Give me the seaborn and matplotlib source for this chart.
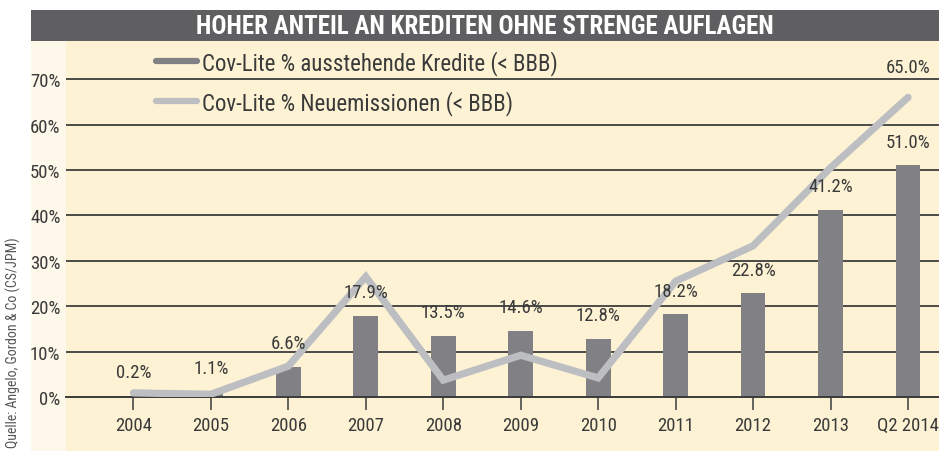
import matplotlib
matplotlib.use("Agg")
import matplotlib.pyplot as plt
from matplotlib.patches import Rectangle
from matplotlib.lines import Line2D
import numpy as np
import pandas as pd
import seaborn as sns

# chart data
periods = ["2004", "2005", "2006", "2007", "2008", "2009", "2010",
           "2011", "2012", "2013", "Q2 2014"]
outstanding = [0.2, 1.1, 6.6, 17.9, 13.5, 14.6, 12.8, 18.2, 22.8, 41.2, 51.0]
new_issue = [0.9, 0.6, 6.8, 26.5, 3.7, 9.2, 4.2, 25.5, 33.3, 50.5, 66.0]
new_issue_last_label = "65.0%"
y_ticks = [0, 10, 20, 30, 40, 50, 60, 70]
title = "HOHER ANTEIL AN KREDITEN OHNE STRENGE AUFLAGEN"
legend_labels = ["Cov-Lite % ausstehende Kredite (< BBB)",
                 "Cov-Lite % Neuemissionen (< BBB)"]
source = "Quelle: Angelo, Gordon & Co (CS/JPM)"

BAR_COLOR = "#808085"
LINE_COLOR = "#bdbec2"
TEXT_COLOR = "#3a3a3a"
BG = "#fdf3d4"
STRIP = "#fdf8ea"
TITLE_BG = "#5f5f61"

sns.set_style("white")
plt.rcParams["font.family"] = ["Roboto Condensed", "Archivo Narrow",
                               "Liberation Sans Narrow", "DejaVu Sans"]

W, H = 939, 452
fig = plt.figure(figsize=(W / 100, H / 100), dpi=100)
fig.patch.set_facecolor("white")


# background panels, given in picture pixels
def px_rect(x0, y0, x1, y1, color):
    fig.patches.append(Rectangle((x0 / W, 1 - y1 / H), (x1 - x0) / W,
                                 (y1 - y0) / H, transform=fig.transFigure,
                                 facecolor=color, edgecolor="none", zorder=-1))


px_rect(31, 42, 66, H, STRIP)
px_rect(66, 42, W, H, BG)
px_rect(31, 11, W, 42, TITLE_BG)
fig.text((31 + W) / 2 / W, 1 - 27 / H, title, color="white", fontsize=18,
         fontweight="bold", ha="center", va="center")
fig.text(13 / W, 1 - 343 / H, source, rotation=90, color="#555555",
         fontsize=10, ha="center", va="center")

# axes: bottom at the 0% line (y=398px), top at 42px
y0_px, top_px, left_px = 398, 42, 66
ax = fig.add_axes([left_px / W, 1 - y0_px / H, (W - left_px) / W,
                   (y0_px - top_px) / H])
ax.set_facecolor("none")

df = pd.DataFrame({"period": periods, "outstanding": outstanding,
                   "new_issue": new_issue, "pos": np.arange(len(periods))})

for t in y_ticks[1:]:
    ax.axhline(t, color="#4a4a48", lw=1.4, zorder=1)

sns.barplot(data=df, x="period", y="outstanding", color=BAR_COLOR,
            width=0.32, saturation=1, edgecolor="none", linewidth=0,
            ax=ax, zorder=2)
sns.lineplot(data=df, x="pos", y="new_issue", color=LINE_COLOR, lw=5.2,
             sort=False, ax=ax, zorder=3, solid_joinstyle="miter")
ax.set_xlim(-0.87, 10.4)
ax.set_ylim(0, (y0_px - top_px) / 4.54)

for i, v in enumerate(outstanding):
    ax.annotate(f"{v:.1f}%", (i, v), xytext=(0, 17), textcoords="offset points",
                ha="center", va="center", fontsize=13.5, color=TEXT_COLOR)
ax.annotate(new_issue_last_label, (len(periods) - 1, new_issue[-1]),
            xytext=(0, 22), textcoords="offset points", ha="center",
            va="center", fontsize=13.5, color=TEXT_COLOR)

ax.set_yticks(y_ticks)
ax.set_yticklabels([f"{t}%" for t in y_ticks])
ax.set_xticks(range(len(periods)))
ax.set_xticklabels(periods)
ax.set_xlabel("")
ax.set_ylabel("")
ax.tick_params(axis="y", left=False, length=0, pad=4, labelsize=13.5,
               labelcolor=TEXT_COLOR)
ax.tick_params(axis="x", bottom=True, length=9, width=1.2, color="#4a4a48",
               pad=5, labelsize=13.5, labelcolor=TEXT_COLOR, direction="out")
for s in ["top", "right", "left"]:
    ax.spines[s].set_visible(False)
ax.spines["bottom"].set_color("#3a3a3a")
ax.spines["bottom"].set_linewidth(1.4)

handles = [Line2D([], [], color=BAR_COLOR, lw=4.5),
           Line2D([], [], color=LINE_COLOR, lw=4.5)]
fig.legend(handles, legend_labels, loc="upper left",
           bbox_to_anchor=(140 / W, 1 - 35 / H), frameon=False, fontsize=16.5,
           handlelength=1.8, handletextpad=0.22, labelspacing=0.65,
           labelcolor=TEXT_COLOR, borderpad=0.2)

fig.savefig("out.png", dpi=100, facecolor="white")
